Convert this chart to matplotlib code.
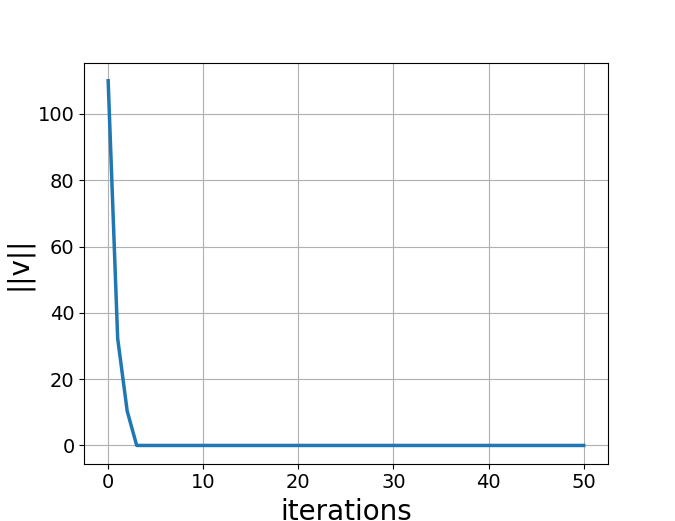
import matplotlib
matplotlib.use("Agg")
import matplotlib.pyplot as plt
import numpy as np

# norm of v per iteration
v_head = [110.0, 32.3, 10.4, 0.0]
n_iter = 51

norms = np.zeros(n_iter)
norms[:len(v_head)] = v_head
iterations = np.arange(n_iter)

fig, ax = plt.subplots(figsize=(6.75, 5.21), dpi=100)
ax.plot(iterations, norms, color="#1f77b4", linewidth=2.5)
ax.set_xlabel("iterations", fontsize=20)
ax.set_ylabel("||v||", fontsize=20)
ax.tick_params(labelsize=14)
ax.grid(True)
fig.savefig("out.png", dpi=100)
